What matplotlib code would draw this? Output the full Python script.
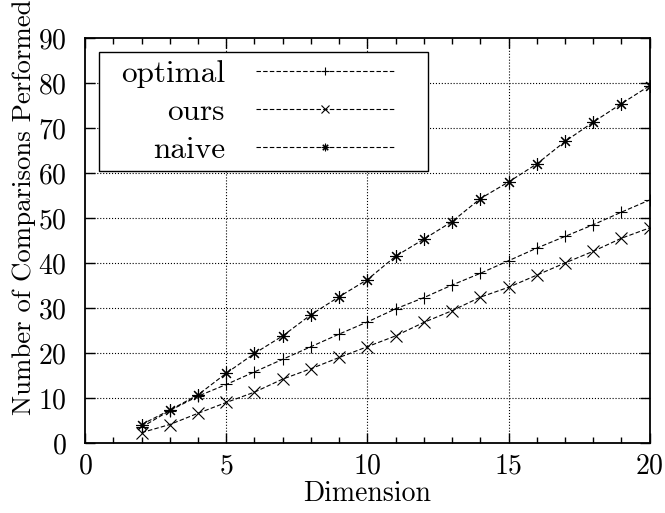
import matplotlib
matplotlib.use("Agg")
import matplotlib.pyplot as plt
from matplotlib.patches import Rectangle

plt.rcParams['font.family'] = 'cmr10'
plt.rcParams['axes.formatter.use_mathtext'] = True
plt.rcParams['font.size'] = 20

# Comparisons needed per dimension
dims = list(range(2, 21))
optimal = [3.5, 7.2, 10.4, 13.0, 15.8, 18.6, 21.4, 24.2, 26.9, 29.8, 32.3, 35.1,
           37.7, 40.5, 43.3, 45.9, 48.5, 51.3, 54.0]
ours = [2.3, 4.1, 6.6, 9.0, 11.3, 14.2, 16.5, 19.0, 21.4, 23.8, 26.8, 29.4,
        32.4, 34.6, 37.3, 40.0, 42.6, 45.5, 47.8]
naive = [4.1, 7.3, 10.7, 15.5, 19.9, 23.8, 28.5, 32.5, 36.3, 41.5, 45.3, 49.2,
         54.3, 58.0, 62.0, 67.0, 71.3, 75.4, 79.4]

fig = plt.figure(figsize=(6.65, 5.13), dpi=100)
ax = fig.add_axes([0.128, 0.1365, 0.849, 0.7895])

style = dict(color='black', linestyle='--', dashes=(4, 2), linewidth=0.8,
             markersize=9, markeredgewidth=0.8)
ax.plot(dims, optimal, marker='+', label='optimal', **style)
ax.plot(dims, ours, marker='x', label='ours', **style)
ax.plot(dims, naive, marker=(8, 2, 0), label='naive', **style)

ax.set_xlim(0, 20)
ax.set_ylim(0, 90)
ax.set_xticks([0, 5, 10, 15, 20])
ax.set_xticks(range(0, 21), minor=True)
ax.set_yticks(range(0, 91, 10))

ax.tick_params(which='both', direction='in', top=True, right=True, width=1.0)
ax.tick_params(which='major', length=7)
ax.tick_params(which='minor', length=4)
ax.tick_params(axis='y', pad=13)
ax.tick_params(axis='x', pad=7)
for s in ax.spines.values():
    s.set_linewidth(1.3)

# dotted grid on the inner major ticks only
for x in [5, 10, 15]:
    ax.axvline(x, color='black', linestyle=':', linewidth=0.8, zorder=0)
for y in range(10, 90, 10):
    ax.axhline(y, color='black', linestyle=':', linewidth=0.8, zorder=0)

ax.set_xlabel('Dimension', labelpad=1)
fig.text(0.036, 0.5955, 'Number of Comparisons Performed', rotation=90,
         ha='center', va='center', fontsize=19.3)

# key box drawn separately so its padding can be uneven
ax.add_patch(Rectangle((0.0248, 0.6716), 0.5823, 0.2938, transform=ax.transAxes,
                       facecolor='white', edgecolor='black', linewidth=1.0,
                       zorder=3))
leg = ax.legend(loc='center', bbox_to_anchor=(0.305, 0.817),
                markerfirst=False, handlelength=4.4, handletextpad=1.0,
                labelspacing=0.33, markerscale=0.6, frameon=False,
                fontsize=22.5, borderpad=0.2)
leg.set_zorder(5)

fig.savefig('out.png', dpi=100)
